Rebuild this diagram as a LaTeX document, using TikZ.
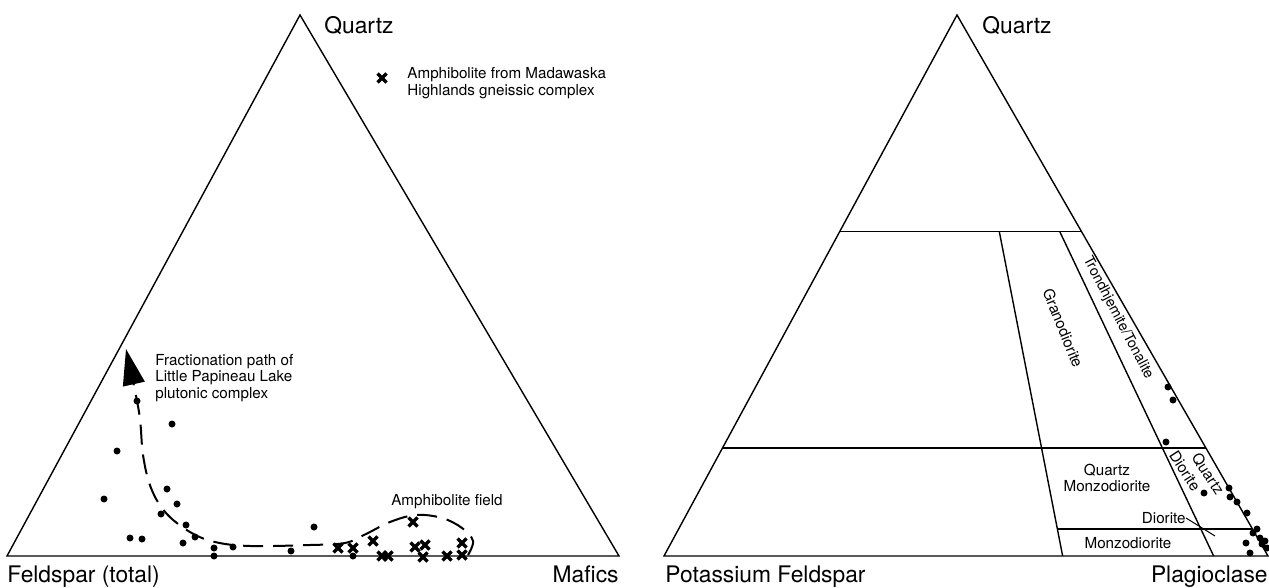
\documentclass[tikz,border=0pt]{standalone}
\usepackage{fontspec}
\setmainfont{TeX Gyre Heros}
\usetikzlibrary{arrows.meta,calc}

\begin{document}
\begin{tikzpicture}[x=0.5pt, y=-0.5pt,
  tri/.style={line width=0.7pt, line join=miter},
  lab/.style={font=\fontsize{11.4}{13}\selectfont, inner sep=0pt},
  sm/.style={font=\fontsize{7.6}{8.2}\selectfont, inner sep=0pt},
  amph/.style={line width=1.7pt},
  fpath/.style={line width=1pt, dash pattern=on 10pt off 5pt}]
  \useasboundingbox (0,0) rectangle (1269,588);

  % left diagram: Quartz - Feldspar - Mafics
  \coordinate (lq) at (300,15);
  \coordinate (lf) at (7,556);
  \coordinate (lm) at (619,556);
  \draw[tri] (lf) -- (lq) -- (lm) -- cycle;
  \node[lab, anchor=base west] (lqt) at (324,34) {Quartz};
  \node[lab, anchor=base west] (lft) at (7,582) {Feldspar (total)};
  \node[lab, anchor=base east] (lmt) at (619,582) {Mafics};

  % legend
  \draw[amph] (382,78) +(-4.5,-4.5) -- +(4.5,4.5) (382,78) +(-4.5,4.5) -- +(4.5,-4.5);
  \node[sm, anchor=west, align=left] (leg) at (407,83) {Amphibolite from Madawaska\\Highlands gneissic complex};

  % fractionation path and amphibolite field
  \draw[fpath, -{Triangle[length=18pt, width=11pt]}] plot[smooth, tension=0.6] coordinates {
    (468,555) (473,541) (462,528) (442,518) (416,515) (390,522) (366,534)
    (345,543) (310,545) (250,546) (215,542) (190,532) (166,513) (151,488)
    (143,455) (139,412) (126,349)};
  \node[sm, anchor=west, align=left] (frac) at (155,378) {Fractionation path of\\Little Papineau Lake\\plutonic complex};
  \node[sm] (fld) at (447,502) {Amphibolite field};

  \foreach \x/\y in {137/401, 172/424, 117/451, 167/489, 104/499, 177/504, 161/514,
    186/525, 130/538, 142/539, 195/537, 183/543, 214/548, 214/556, 233/547,
    291/551, 314/527, 353/556}
    \fill (\x,\y) circle (1.75pt);
  \foreach \x/\y in {338/548, 353/548, 373/541, 382/556, 388/556, 413/522, 415/547,
    425/545, 423/557, 447/556, 462/543, 462/555}
    \draw[amph] (\x,\y) +(-4.5,-4.5) -- +(4.5,4.5) (\x,\y) +(-4.5,4.5) -- +(4.5,-4.5);

  % right diagram: Quartz - Potassium Feldspar - Plagioclase
  \coordinate (rq) at (957,15);
  \coordinate (rk) at (664,556);
  \coordinate (rp) at (1268,556);
  \coordinate (b66) at ($(rk)!0.66!(rp)$);
  \coordinate (b91) at ($(rk)!0.91!(rp)$);
  \draw[tri] (rk) -- (rq) -- (rp) -- cycle;
  \draw[tri] ($(rk)!0.6!(rq)$) -- ($(rp)!0.6!(rq)$);
  \draw[tri] ($(rk)!0.2!(rq)$) -- ($(rp)!0.2!(rq)$);
  \draw[tri] ($(b66)!0.05!(rq)$) -- ($(rp)!0.05!(rq)$);
  \draw[tri] ($(b66)!0.6!(rq)$) -- (b66);
  \draw[tri] ($(b91)!0.6!(rq)$) -- (b91);
  \node[lab, anchor=base west] (rqt) at (982,34) {Quartz};
  \node[lab, anchor=base west] (rkt) at (665,582) {Potassium Feldspar};
  \node[lab, anchor=base east] (rpt) at (1268,582) {Plagioclase};

  \node[sm, rotate=-68] (gra) at (1063,328) {Granodiorite};
  \node[sm, font=\fontsize{7.2}{8}\selectfont, rotate=-62.5] (ton) at (1118,318) {Trondhjemite/Tonalite};
  \node[sm, align=center] (qmd) at (1107,478) {Quartz\\Monzodiorite};
  \node[sm, rotate=-57] (qdq) at (1208,474) {Quartz};
  \node[sm, rotate=-57] (qdd) at (1185,471) {Diorite};
  \node[sm] (md) at (1128,543) {Monzodiorite};
  \node[sm, anchor=east] (dio) at (1186,518) {Diorite};
  \coordinate (dtip) at (1215,536);
  \draw[line width=0.5pt] (dio.east) -- (dtip);

  \foreach \x/\y in {1168/387, 1173/400, 1166/442, 1204/493, 1229/488, 1230/497,
    1237/502, 1247/513, 1257/529, 1253/533, 1260/538, 1265/541, 1262/544,
    1246/543, 1250/553, 1267/548}
    \fill (\x,\y) circle (1.75pt);
\end{tikzpicture}
\end{document}
